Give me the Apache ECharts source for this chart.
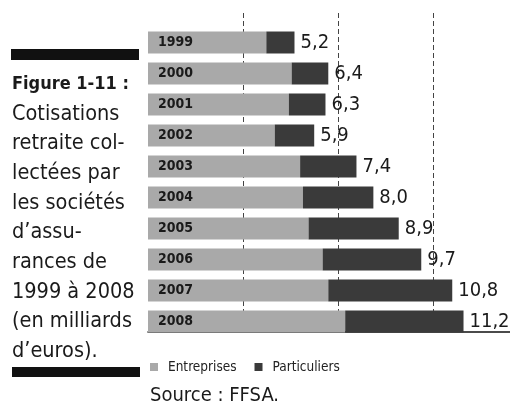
<!DOCTYPE html>
<html>
<head>
<meta charset="utf-8">
<script src="https://cdn.jsdelivr.net/npm/echarts@6/dist/echarts.min.js"></script>
<style>
  html, body { margin: 0; padding: 0; background: #fff; }
  #chart { width: 510px; height: 406px; }
</style>
</head>
<body>
<div id="chart"></div>
<script>
// data
const years = ['1999', '2000', '2001', '2002', '2003', '2004', '2005', '2006', '2007', '2008'];
const entreprises = [4.2, 5.1, 5.0, 4.5, 5.4, 5.5, 5.7, 6.2, 6.4, 7.0];
const particuliers = [1.0, 1.3, 1.3, 1.4, 2.0, 2.5, 3.2, 3.5, 4.4, 4.2];
const seriesNames = ['Entreprises', 'Particuliers'];
const captionTitle = 'Figure 1-11 :';
const captionLines = ['Cotisations', 'retraite col-', 'lectées par', 'les sociétés', 'd\u2019assu-',
  'rances de', '1999 à 2008', '(en milliards', 'd\u2019euros).'];
const sourceText = 'Source : FFSA.';

const FONT = '"DejaVu Sans Condensed", "Liberation Sans Narrow", sans-serif';
const colors = ['#a9a9a9', '#3a3a3a'];

// total shown at the end of each bar, french decimal comma
function total(i) {
  return (entreprises[i] + particuliers[i]).toFixed(1).replace('.', ',');
}

const chart = echarts.init(document.getElementById('chart'));

// left caption block
let graphic = [
  { type: 'rect', shape: { x: 11, y: 49, width: 128, height: 11 }, style: { fill: '#111' } },
  { type: 'rect', shape: { x: 12, y: 367, width: 128, height: 10 }, style: { fill: '#111' } },
  {
    type: 'text', x: 12, y: 84.5,
    style: { text: captionTitle, font: 'bold 18px ' + FONT, fill: '#1a1a1a', verticalAlign: 'middle' }
  },
  {
    type: 'text', x: 150, y: 396,
    style: { text: sourceText, font: '20px ' + FONT, fill: '#1a1a1a', verticalAlign: 'middle' }
  }
];
captionLines.forEach(function (t, i) {
  graphic.push({
    type: 'text', x: 12, y: 84.5 + 29.67 * (i + 1),
    style: { text: t, font: '21.5px ' + FONT, fill: '#1a1a1a', verticalAlign: 'middle' }
  });
});

const xMax = 12.85;
const xStep = 3.37;

const option = {
  animation: false,
  backgroundColor: '#fff',
  color: colors,
  graphic: graphic,
  legend: {
    data: seriesNames,
    left: 150,
    top: 360,
    padding: 0,
    icon: 'rect',
    itemWidth: 8,
    itemHeight: 8,
    itemGap: 18,
    textStyle: { fontFamily: FONT, fontSize: 13.5, color: '#222', padding: [0, 0, 0, 5] }
  },
  grid: [
    { left: 148, right: 0, top: 27, bottom: 69 },   // bars
    { left: 148, right: 0, top: 13, bottom: 74 }    // dashed lines + base line
  ],
  xAxis: [
    { type: 'value', gridIndex: 0, min: 0, max: xMax, interval: xStep, show: false },
    {
      type: 'value', gridIndex: 1, min: 0, max: xMax, interval: xStep,
      axisLabel: { show: false },
      axisTick: { show: false },
      axisLine: { show: true, lineStyle: { color: '#111', width: 1.5 } },
      splitLine: {
        show: true, showMinLine: false, showMaxLine: false,
        lineStyle: { color: '#444', width: 1, type: [5, 3] }
      }
    }
  ],
  yAxis: [
    {
      type: 'category', gridIndex: 0, data: years, inverse: true, z: 5,
      axisLine: { show: false },
      axisTick: { show: false },
      axisLabel: {
        inside: true, margin: 10,
        fontFamily: FONT, fontWeight: 'bold', fontSize: 14, color: '#1a1a1a'
      }
    },
    { type: 'value', gridIndex: 1, min: 0, max: 1, show: false }
  ],
  series: [
    {
      name: seriesNames[0],
      type: 'bar',
      stack: 'total',
      barWidth: 22,
      data: entreprises
    },
    {
      name: seriesNames[1],
      type: 'bar',
      stack: 'total',
      barWidth: 22,
      data: particuliers,
      label: {
        show: true,
        position: 'right',
        distance: 6,
        fontFamily: FONT,
        fontSize: 20,
        color: '#1a1a1a',
        formatter: function (p) { return total(p.dataIndex); }
      }
    }
  ]
};

chart.setOption(option);
</script>
</body>
</html>
